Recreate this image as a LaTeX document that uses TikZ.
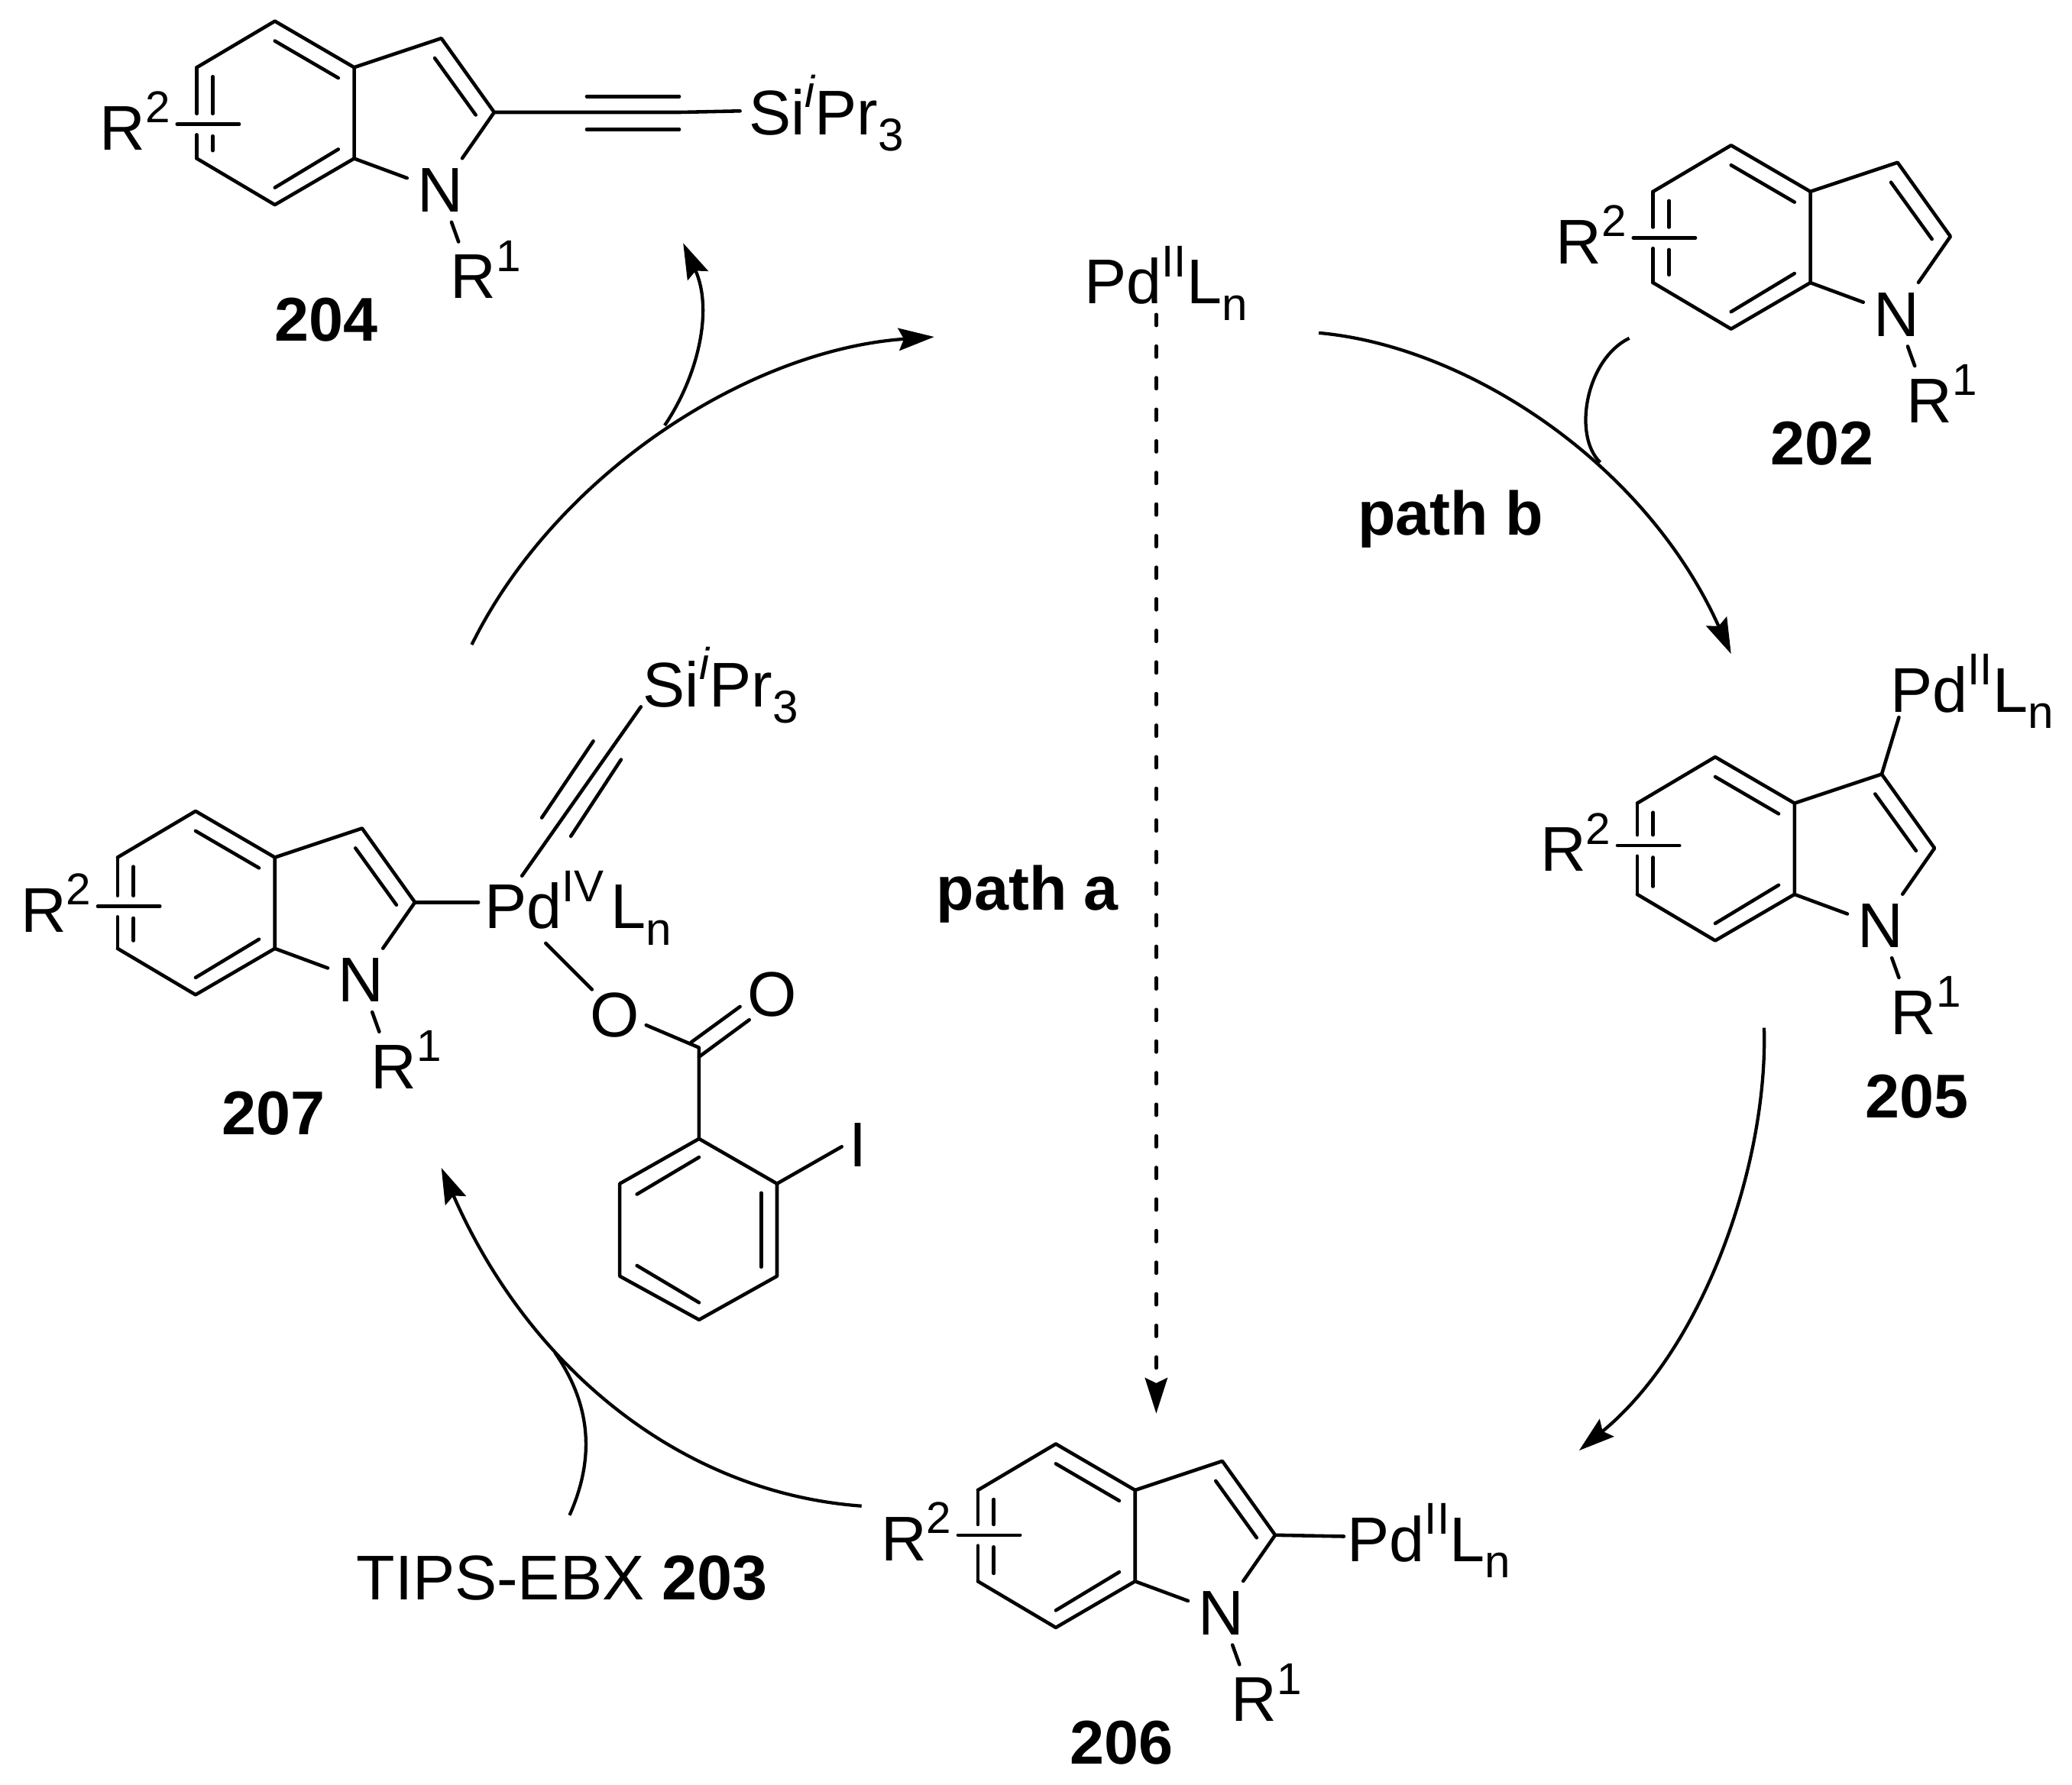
\documentclass[tikz,border=0pt]{standalone}
\usepackage{fontspec}
\setmainfont{Liberation Sans}
\usetikzlibrary{arrows.meta,calc}
\newcommand{\upidx}[1]{\raisebox{0.43em}{\fontsize{9.6}{10}\selectfont #1}}
\newcommand{\lowidx}[1]{\raisebox{-0.26em}{\fontsize{9.9}{10}\selectfont #1}}
\newcommand{\PdL}[1]{Pd\upidx{#1}L\lowidx{n}}
\newcommand{\SiTips}{Si\upidx{\itshape i}Pr\lowidx{3}}
\tikzset{
  bond/.style={line width=0.75pt,line cap=round,line join=round},
  arr/.style={line width=0.7pt,-{Stealth[length=2.7mm,width=1.7mm,inset=0.4mm]}},
  lbl/.style={anchor=base west,inner sep=0pt,font=\fontsize{13.6}{15}\selectfont},
  num/.style={anchor=base west,inner sep=0pt,font=\fontsize{13.3}{15}\selectfont\bfseries},
  atom/.style={inner sep=0.07cm,font=\fontsize{13.6}{15}\selectfont},
  pics/indole/.style={code={
    \coordinate (-t) at (0,0);
    \coordinate (-lt) at (-59,35);
    \coordinate (-lb) at (-59,104);
    \coordinate (-b) at (0,139);
    \coordinate (-ft) at (60,35);
    \coordinate (-fb) at (60,104);
    \coordinate (-c3) at (126,13);
    \coordinate (-c2) at (166,69);
    \node[atom] (-N) at (125,128) {N};
    \coordinate (-rb) at (139,167);
    \node[lbl] (-Rone) at (132,210) {R\upidx{1}};
    \node[lbl] (-Rtwo) at (-133,{#1+19.5}) {R\upidx{2}};
    % ring
    \draw[bond] (-lt) -- (-t) -- (-ft) -- (-fb) -- (-b) -- (-lb);
    \draw[bond] (-ft) -- (-c3) -- (-c2) -- (-N);
    \draw[bond] (-fb) -- (-N);
    \draw[bond] (-N) -- (-rb);
    % double bonds
    \draw[bond] (0,15) -- (48,43);
    \draw[bond] (48,97) -- (0,126);
    \draw[bond] (121,28) -- (152,71);
    % bond cut by the R2 stick
    \draw[bond] (-lt) -- (-59,{#1-8});
    \draw[bond] (-59,{#1+8}) -- (-lb);
    \draw[bond] (-47,42) -- (-47,{#1-8});
    \draw[bond] (-47,{#1+9}) -- (-47,98);
    \draw[bond] (-74,#1) -- (-27,#1);
  }}
}
\begin{document}
\begin{tikzpicture}[x=0.01cm,y=-0.01cm]
\useasboundingbox (0,0) rectangle (1568,1351);
% indoles
\pic (pa) at (208,16) {indole=78};
\pic (pb) at (1310,110) {indole=70};
\pic (pc) at (1298,573) {indole=67};
\pic (pd) at (799,1093) {indole=69};
\pic (pe) at (148,614) {indole=72};
% compound numbers
\node[num] (n204) at (207,258) {204};
\node[num] (n202) at (1339,352) {202};
\node[num] (n205) at (1411,846) {205};
\node[num] (n206) at (809,1335) {206};
\node[num] (n207) at (167,859) {207};
% 204
\node[lbl] (siA) at (566,102) {\SiTips};
\coordinate (endA) at (560,84);
\draw[bond] (pa-c2) -- (514,85) -- (endA);
\draw[bond] (444,73) -- (514,73);
\draw[bond] (444,98) -- (514,98);
% Pd species
\node[lbl] (pdTop) at (820,230) {\PdL{II}};
\node[lbl] (pdC) at (1430,539) {\PdL{II}};
\node[lbl] (pdD) at (1019,1182) {\PdL{II}};
\node[lbl] (pdE) at (366,703) {Pd\upidx{IV}\kern1.5pt L\lowidx{n}};
\coordinate (endC) at (1437,543);
\coordinate (endD) at (1017,1163);
\coordinate (endE) at (362,683);
\draw[bond] (pc-c3) -- (endC);
\draw[bond] (pd-c2) -- (endD);
\draw[bond] (pe-c2) -- (endE);
% 207 ligands
\node[lbl] (siE) at (486,535) {\SiTips};
\coordinate (tA) at (395,663);
\coordinate (tB) at (485,535);
\draw[bond] (tA) -- (tB);
\draw[bond] (410,619) -- (449,561);
\draw[bond] (432,633) -- (470,575);
\node[lbl] (oA) at (446,785) {O};
\node[lbl] (oB) at (565,769) {O};
\node[lbl] (iod) at (642,883) {I};
\coordinate (cO) at (529,793);
\coordinate (ar1) at (529,862);
\coordinate (ar2) at (588,896);
\coordinate (ar3) at (588,966);
\coordinate (ar4) at (529,999);
\coordinate (ar5) at (469,966);
\coordinate (ar6) at (469,896);
\draw[bond] (413,714) -- (448,749);
\draw[bond] (489,776) -- (cO) -- (ar1);
\draw[bond] (523,789) -- (560,762);
\draw[bond] (529,800) -- (567,772);
\draw[bond] (ar1) -- (ar2) -- (ar3) -- (ar4) -- (ar5) -- (ar6) -- cycle;
\draw[bond] (ar2) -- (637,868);
\draw[bond] (529,876) -- (482,904);
\draw[bond] (576,903) -- (576,959);
\draw[bond] (482,958) -- (529,986);
% text
\node[num] (pathb) at (1027,405) {path b};
\node[num] (patha) at (708,689) {path a};
\node[lbl] (tips) at (269,1211) {TIPS-EBX \textbf{203}};
% cycle
\coordinate (a1) at (357,488);
\coordinate (a2) at (707,255);
\coordinate (a3) at (503,322);
\coordinate (a4) at (517,184);
\coordinate (b1) at (998,252);
\coordinate (b2) at (1310,495);
\coordinate (b3) at (1233,256);
\coordinate (b4) at (1211,350);
\coordinate (c1) at (1335,778);
\coordinate (c2) at (1195,1098);
\coordinate (d1) at (652,1140);
\coordinate (d2) at (334,884);
\coordinate (d3) at (431,1147);
\coordinate (d4) at (420,1024);
\coordinate (e1) at (875,238);
\coordinate (e2) at (875,1070);
\draw[arr] (a1) .. controls (420,360) and (565,265) .. (a2);
\draw[arr] (a3) .. controls (528,285) and (540,235) .. (a4);
\draw[arr] (b1) .. controls (1110,262) and (1245,350) .. (b2);
\draw[line width=0.7pt] (b3) .. controls (1200,272) and (1190,330) .. (b4);
\draw[arr] (c1) .. controls (1338,880) and (1290,1020) .. (c2);
\draw[arr] (d1) .. controls (515,1130) and (400,1035) .. (d2);
\draw[line width=0.7pt] (d3) .. controls (452,1100) and (445,1060) .. (d4);
\draw[arr,line cap=round,dash pattern=on 2.4pt off 4.4pt] (e1) -- (e2);
\end{tikzpicture}
\end{document}
